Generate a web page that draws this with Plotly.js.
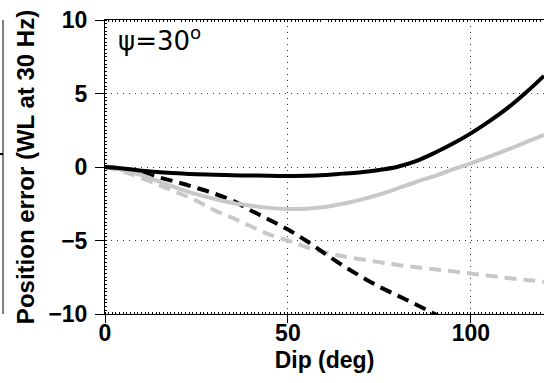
<!DOCTYPE html>
<html>
<head>
<meta charset="utf-8">
<script src="https://cdn.plot.ly/plotly-3.0.1.min.js"></script>
<style>
html,body{margin:0;padding:0;background:#fff;}
#chart{width:544px;height:383px;}
</style>
</head>
<body>
<div id="chart"></div>
<script>
// Dip angle (deg)
var dip = [0,5,10,15,20,25,30,35,40,45,50,55,60,65,70,75,80,85,90,95,100,105,110,115,120];
// Position error (WL at 30 Hz), psi = 30 deg
var blackSolid = [0,-0.1,-0.25,-0.35,-0.43,-0.49,-0.53,-0.56,-0.58,-0.6,-0.61,-0.6,-0.55,-0.45,-0.36,-0.2,0.02,0.4,0.95,1.58,2.29,3.1,4.0,5.05,6.2];
var graySolid  = [0,-0.2,-0.55,-1.0,-1.45,-1.85,-2.18,-2.45,-2.64,-2.78,-2.86,-2.84,-2.72,-2.5,-2.22,-1.87,-1.45,-1.02,-0.62,-0.18,0.25,0.7,1.18,1.67,2.18];
var blackDash  = [0,-0.12,-0.4,-0.72,-1.05,-1.42,-1.82,-2.3,-2.97,-3.6,-4.25,-5.02,-5.87,-6.7,-7.45,-8.15,-8.75,-9.35,-9.98,-10.6,-11.2,-11.8,-12.4,-13.0,-13.6];
var grayDash   = [0,-0.3,-0.75,-1.25,-1.75,-2.3,-2.95,-3.48,-4.05,-4.6,-5.0,-5.45,-5.8,-6.07,-6.28,-6.47,-6.66,-6.82,-6.95,-7.1,-7.25,-7.4,-7.55,-7.68,-7.8];
var xTicks = [0,50,100];
var yTicks = [-10,-5,0,5,10];
var panelLabel = 'ψ=30<sup>o</sup>';

var FONT = 'Arial, "Liberation Sans", sans-serif';
var GRAY = '#c8c8c8';

var traces = [
  {x: dip, y: grayDash, mode:'lines', line:{color:GRAY, width:4, dash:'12px,7px', shape:'spline'}},
  {x: dip, y: blackDash, mode:'lines', line:{color:'#000', width:4, dash:'12px,7px', shape:'spline'}},
  {x: dip, y: graySolid, mode:'lines', line:{color:GRAY, width:4, shape:'spline'}},
  {x: dip, y: blackSolid, mode:'lines', line:{color:'#000', width:4, shape:'spline'}},
  {x: [], y: [], xaxis:'x2', yaxis:'y', mode:'lines', showlegend:false, hoverinfo:'skip'}
];

var layout = {
  width:544, height:383,
  margin:{l:105, r:0, t:20, b:69, pad:0},
  paper_bgcolor:'#fff', plot_bgcolor:'#fff',
  showlegend:false,
  font:{family:FONT, color:'#000'},
  xaxis:{
    range:[0,120], tickvals:xTicks, ticks:'outside', ticklen:8, tickwidth:1, tickcolor:'#000',
    showline:true, linecolor:'#000', linewidth:1, zeroline:false,
    showgrid:true, gridcolor:'#333', gridwidth:1, griddash:'1px,5px',
    tickfont:{family:FONT, size:23, weight:'bold', color:'#000'}, ticklabelstandoff:-10,
    minor:{ticks:'inside', ticklen:2, dtick:1, tick0:0, tickcolor:'#000', showgrid:false},
    title:{text:'Dip (deg)', font:{family:FONT, size:23, weight:'bold', color:'#000'}, standoff:7}
  },
  xaxis2:{
    overlaying:'x', side:'top', range:[0,120], showline:true, linecolor:'#000', linewidth:1,
    ticks:'', showticklabels:false, showgrid:false, zeroline:false,
    minor:{ticks:'inside', ticklen:2, dtick:1, tick0:0, tickcolor:'#000', showgrid:false}
  },
  yaxis:{
    range:[-10,10], tickvals:yTicks, ticks:'outside', ticklen:9, tickwidth:1, tickcolor:'#000',
    showline:true, linecolor:'#000', linewidth:1, zeroline:false,
    showgrid:true, gridcolor:'#333', gridwidth:1, griddash:'1px,5px',
    tickfont:{family:FONT, size:23, weight:'bold', color:'#000'}, ticklabelstandoff:3,
    minor:{ticks:'inside', ticklen:2, dtick:0.25, tick0:0, tickcolor:'#000', showgrid:false},
    title:{text:'Position error (WL at 30 Hz)', font:{family:FONT, size:24, weight:'bold', color:'#000'}, standoff:6}
  },
  annotations:[{
    text: panelLabel, xref:'paper', yref:'paper', x:0.026, y:1.0, xanchor:'left', yanchor:'top',
    showarrow:false, font:{family:'"DejaVu Sans", sans-serif', size:26, color:'#000'}
  }],
  shapes:[
    {type:'line', xref:'paper', yref:'paper', x0:-0.2323, x1:-0.2323, y0:0, y1:1, line:{color:'#000', width:1}},
    {type:'line', xref:'paper', yref:'paper', x0:-0.2392, x1:-0.2323, y0:0.544, y1:0.544, line:{color:'#000', width:2}}
  ]
};

Plotly.newPlot('chart', traces, layout, {displayModeBar:false, staticPlot:true});
</script>
</body>
</html>
